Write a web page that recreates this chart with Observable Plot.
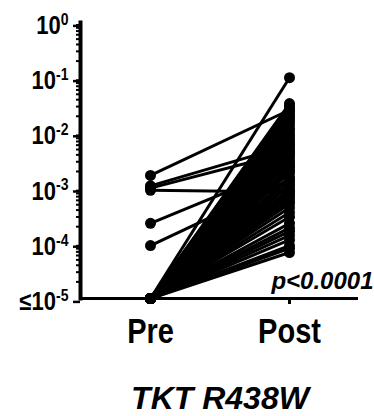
<!DOCTYPE html>
<html><head><meta charset="utf-8">
<script src="https://cdn.jsdelivr.net/npm/d3@7"></script>
<script src="https://cdn.jsdelivr.net/npm/@observablehq/plot@0.6"></script>
<style>
body{margin:0;background:#fff;font-family:"Liberation Sans",Arial,sans-serif;}
#wrap{position:relative;width:374px;height:416px;overflow:hidden}
#title{position:absolute;left:110px;width:220px;top:384px;text-align:center;font:italic bold 32px/28px "Liberation Sans",Arial,sans-serif;white-space:nowrap;color:#000}
</style></head><body><div id="wrap"><div id="chart"></div><div id="title"></div></div>
<script>
const categories = ["Pre", "Post"];
const preValues = [
  0.0017, 0.0011, 0.001, 0.00091, 0.00023, 0.000091,
  1e-5, 1e-5, 1e-5, 1e-5, 1e-5, 1e-5, 1e-5, 1e-5, 1e-5, 1e-5,
  1e-5, 1e-5, 1e-5, 1e-5, 1e-5, 1e-5, 1e-5, 1e-5, 1e-5, 1e-5,
  1e-5, 1e-5, 1e-5, 1e-5, 1e-5, 1e-5, 1e-5, 1e-5, 1e-5, 1e-5,
  1e-5, 1e-5, 1e-5, 1e-5, 1e-5, 1e-5, 1e-5, 1e-5, 1e-5, 1e-5,
  1e-5, 1e-5, 1e-5, 1e-5, 1e-5, 1e-5, 1e-5
];
const postValues = [
  0.026, 0.006, 0.0045, 0.00085, 0.0025, 0.0014,
  0.1, 0.034, 0.031, 0.028, 0.025, 0.022, 0.02, 0.018, 0.016, 0.014,
  0.012, 0.011, 0.0095, 0.0085, 0.0075, 0.0068, 0.006, 0.0052, 0.0046, 0.004,
  0.0036, 0.0031, 0.0028, 0.0024, 0.0021, 0.0019, 0.0016, 0.0014, 0.0012, 0.0011,
  0.00095, 0.00085, 0.00075, 0.00066, 0.00058, 0.00052, 0.00044, 0.00036, 0.0003, 0.00023,
  0.00019, 0.000165, 0.000139, 0.000115, 0.000091, 0.000081, 0.000068
];
const yTicks = [1, 0.1, 0.01, 0.001, 0.0001, 0.00001];
const yTickLabels = ["10^0", "10^-1", "10^-2", "10^-3", "10^-4", "\u226410^-5"];
const pValueText = ["p<0.0001"];
const titleText = "TKT R438W";

const pairs = preValues.map((v, i) => ({pre: v, post: postValues[i]}));
const points = pairs.flatMap(d => [{group: "Pre", value: d.pre}, {group: "Post", value: d.post}]);
const minorTicks = d3.scaleLog().domain([1e-5, 1]).ticks().filter(t => !yTicks.some(m => Math.abs(m - t) / m < 1e-6));

const chart = Plot.plot({
  width: 374, height: 360,
  marginLeft: 80, marginRight: 16, marginTop: 22, marginBottom: 62,
  x: {type: "point", domain: categories, padding: 0.5, label: null},
  y: {type: "log", domain: [1e-5, 1], label: null},
  style: {fontFamily: "'Liberation Sans', Arial, sans-serif", color: "#000", background: "#fff"},
  marks: [
    Plot.link(pairs, {x1: () => "Pre", y1: "pre", x2: () => "Post", y2: "post", stroke: "#000", strokeWidth: 3}),
    Plot.dot(points, {x: "group", y: "value", r: 5.5, fill: "#000", stroke: "none"}),
    Plot.ruleY([1e-5], {stroke: "#000", strokeWidth: 3}),
    Plot.frame({anchor: "left", stroke: "#000", strokeWidth: 4}),
    Plot.axisY(minorTicks, {tickSize: 4, strokeWidth: 2, tickFormat: () => "", label: null}),
    Plot.axisY(yTicks, {tickSize: 7, strokeWidth: 2.5, tickPadding: 5, dy: 3.4,
      tickFormat: d => yTickLabels[yTicks.indexOf(d)], fontSize: 22, fontWeight: "bold", label: null}),
    Plot.axisX({tickSize: 6, strokeWidth: 3, tickPadding: 14, fontSize: 29, fontWeight: "bold", label: null}),
    Plot.text(pValueText, {frameAnchor: "bottom-right", text: d => d, textAnchor: "end", lineAnchor: "middle",
      dx: 15, dy: -17.6, fontSize: 24, fontWeight: "bold", fontStyle: "italic", fill: "#000"})
  ]
});

const ns = "http://www.w3.org/2000/svg";
function stretch(t, k) {
  const tr = t.getAttribute("transform") || "";
  t.setAttribute("transform", (tr + ` scale(1,${k})`).trim());
}
// superscript exponents in y tick labels, slight vertical stretch like the original
chart.querySelectorAll("text").forEach(t => {
  const s = t.textContent;
  if (s.includes("^")) {
    const [base, exp] = s.split("^");
    while (t.firstChild) t.removeChild(t.firstChild);
    const a = document.createElementNS(ns, "tspan");
    a.textContent = base;
    const b = document.createElementNS(ns, "tspan");
    b.textContent = exp;
    b.setAttribute("dy", "-8");
    b.setAttribute("font-size", "14");
    t.appendChild(a); t.appendChild(b);
    stretch(t, 1.15);
  } else if (categories.includes(s)) {
    stretch(t, 1.2);
  }
});

document.getElementById("chart").appendChild(chart);
document.getElementById("title").textContent = titleText;
</script>
</body></html>
